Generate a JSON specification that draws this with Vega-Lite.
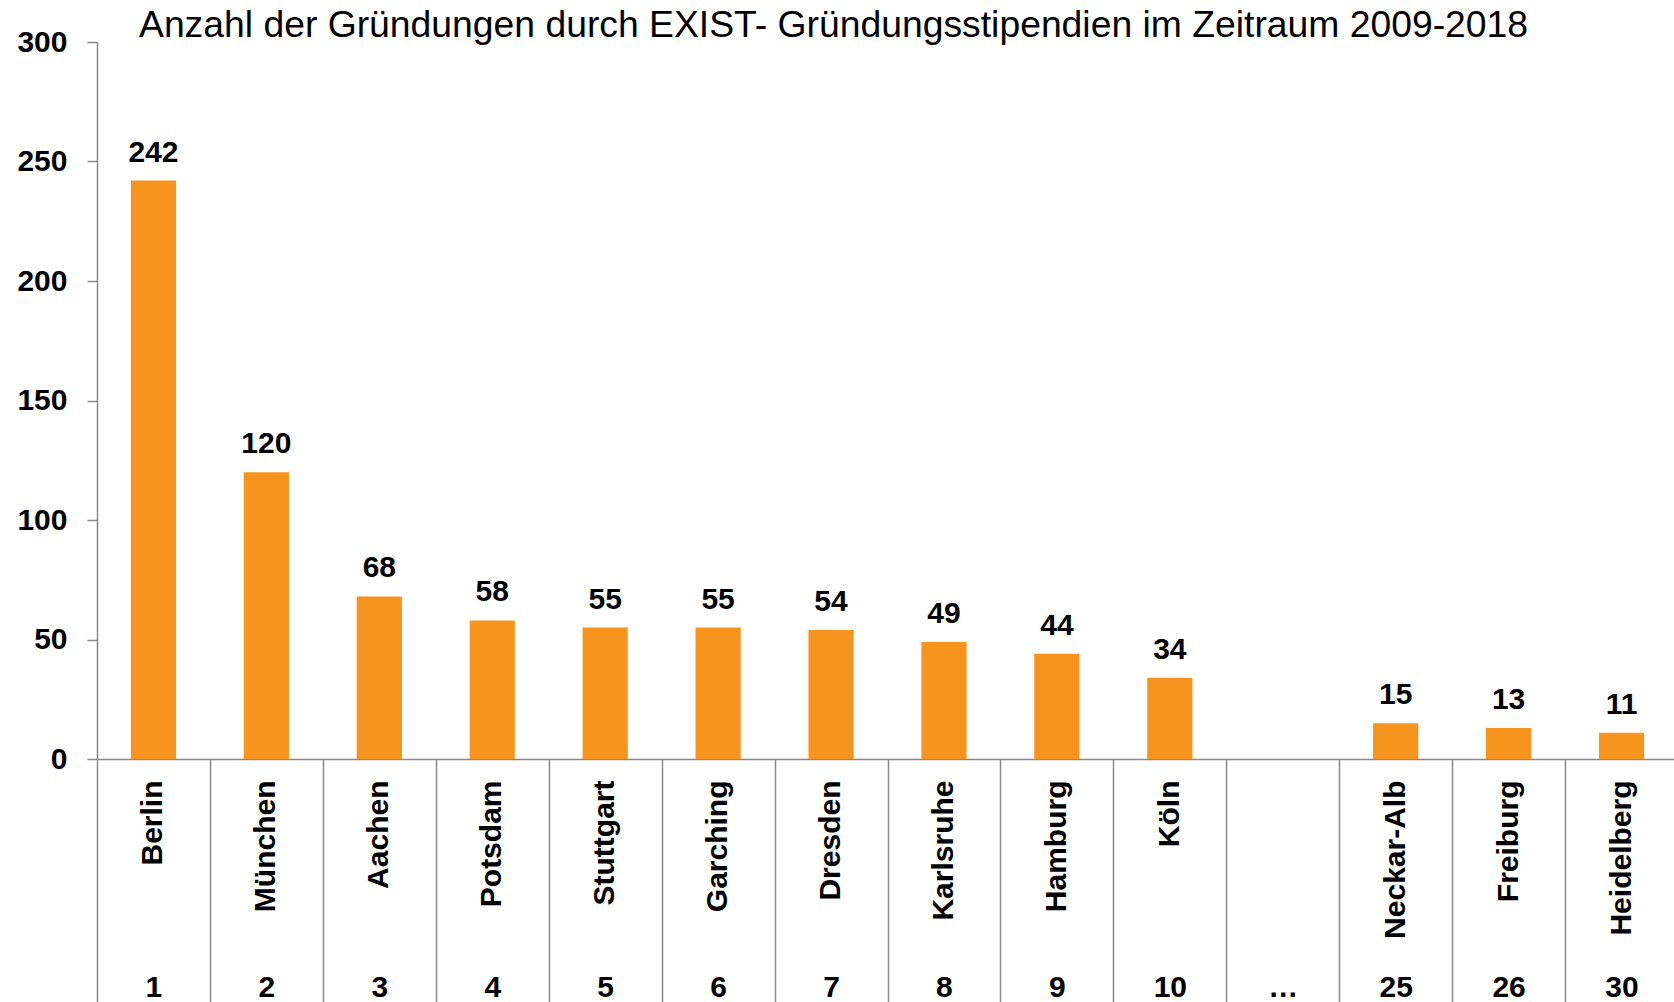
{
  "$schema": "https://vega.github.io/schema/vega-lite/v6.json",
  "width": 1581,
  "height": 717,
  "autosize": {"type": "none"},
  "padding": {"left": 97, "top": 42, "right": 0, "bottom": 243},
  "background": "white",
  "title": {
    "text": "Anzahl der Gründungen durch EXIST- Gründungsstipendien im Zeitraum 2009-2018",
    "font": "Liberation Sans",
    "fontSize": 37.3,
    "fontWeight": "normal",
    "color": "black",
    "anchor": "start",
    "frame": "group",
    "dx": 42,
    "baseline": "alphabetic",
    "offset": -47
  },
  "config": {"view": {"stroke": null}, "font": "Liberation Sans"},
  "data": {
    "values": [
      {"city": "Berlin", "rank": "1", "count": 242},
      {"city": "München", "rank": "2", "count": 120},
      {"city": "Aachen", "rank": "3", "count": 68},
      {"city": "Potsdam", "rank": "4", "count": 58},
      {"city": "Stuttgart", "rank": "5", "count": 55},
      {"city": "Garching", "rank": "6", "count": 55},
      {"city": "Dresden", "rank": "7", "count": 54},
      {"city": "Karlsruhe", "rank": "8", "count": 49},
      {"city": "Hamburg", "rank": "9", "count": 44},
      {"city": "Köln", "rank": "10", "count": 34},
      {"city": "", "rank": "…", "count": null},
      {"city": "Neckar-Alb", "rank": "25", "count": 15},
      {"city": "Freiburg", "rank": "26", "count": 13},
      {"city": "Heidelberg", "rank": "30", "count": 11}
    ]
  },
  "transform": [{"calculate": "datum.city + '|' + datum.rank", "as": "key"}],
  "encoding": {
    "y": {
      "field": "count",
      "type": "quantitative",
      "scale": {"domain": [0, 300], "nice": false, "zero": true},
      "axis": {
        "title": null,
        "values": [0, 50, 100, 150, 200, 250, 300],
        "grid": false,
        "domainColor": "#888888",
        "domainWidth": 1.5,
        "tickColor": "#888888",
        "tickWidth": 1.5,
        "tickSize": 10,
        "labelPadding": 20,
        "labelFont": "Liberation Sans",
        "labelFontSize": 30,
        "labelFontWeight": "bold",
        "labelColor": "black"
      }
    }
  },
  "layer": [
    {
      "mark": {"type": "bar", "color": "#F7941D", "width": {"band": 0.4}},
      "encoding": {
        "x": {
          "field": "key",
          "type": "nominal",
          "scale": {
            "domain": ["Berlin|1", "München|2", "Aachen|3", "Potsdam|4", "Stuttgart|5", "Garching|6", "Dresden|7", "Karlsruhe|8", "Hamburg|9", "Köln|10", "|…", "Neckar-Alb|25", "Freiburg|26", "Heidelberg|30"],
            "paddingInner": 0,
            "paddingOuter": 0
          },
          "axis": {
            "orient": "bottom",
            "title": null,
            "labelExpr": "split(datum.value, '|')[0]",
            "labelAngle": -90,
            "labelAlign": "right",
            "labelBaseline": "middle",
            "labelPadding": 21,
            "ticks": false,
            "domain": true,
            "domainColor": "#888888",
            "domainWidth": 1.5,
            "labelFont": "Liberation Sans",
            "labelFontSize": 30,
            "labelFontWeight": "bold",
            "labelColor": "black"
          }
        }
      }
    },
    {
      "transform": [{"filter": "datum.count != null"}],
      "mark": {"type": "text", "fontSize": 30, "fontWeight": "bold", "font": "Liberation Sans", "baseline": "alphabetic", "dy": -19, "color": "black"},
      "encoding": {
        "x": {
          "field": "key",
          "type": "nominal",
          "scale": {
            "domain": ["Berlin|1", "München|2", "Aachen|3", "Potsdam|4", "Stuttgart|5", "Garching|6", "Dresden|7", "Karlsruhe|8", "Hamburg|9", "Köln|10", "|…", "Neckar-Alb|25", "Freiburg|26", "Heidelberg|30"],
            "paddingInner": 0,
            "paddingOuter": 0
          },
          "axis": {
            "orient": "bottom",
            "title": null,
            "labelExpr": "split(datum.value, '|')[1]",
            "labelAngle": 0,
            "labelAlign": "center",
            "labelBaseline": "middle",
            "ticks": true,
            "tickBand": "extent",
            "tickSize": 243,
            "tickColor": "#888888",
            "tickWidth": 1.5,
            "labelPadding": -15,
            "domain": false,
            "labelFont": "Liberation Sans",
            "labelFontSize": 30,
            "labelFontWeight": "bold",
            "labelColor": "black"
          }
        },
        "text": {"field": "count", "type": "quantitative"}
      }
    }
  ],
  "resolve": {"axis": {"x": "independent"}}
}
